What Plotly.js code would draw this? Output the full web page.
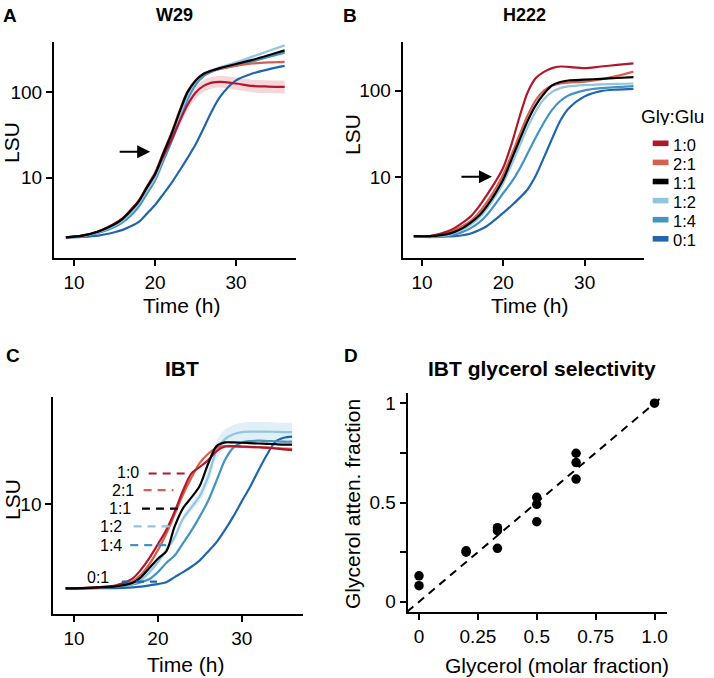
<!DOCTYPE html>
<html>
<head>
<meta charset="utf-8">
<script src="https://cdn.plot.ly/plotly-3.0.1.min.js"></script>
<style>html,body{margin:0;padding:0;background:#fff;}#chart{width:714px;height:678px;}</style>
</head>
<body>
<div id="chart"></div>
<script>
// ---------- data ----------
const groups = ['1:0', '2:1', '1:1', '1:2', '1:4', '0:1'];

// Panel A: W29
const w29Time = [9, 11, 13, 15, 16, 17, 18, 19, 20, 21, 22, 23, 24, 25, 26, 27, 28, 30, 32, 34, 36];
const w29_1_0 = [2.0, 2.1, 2.35, 2.9, 3.35, 4.2, 5.4, 7.8, 11, 17.6, 27.5, 45, 71, 99, 119, 130, 133, 127, 119, 117, 116];
const w29_2_1 = [2.0, 2.1, 2.35, 2.9, 3.35, 4.2, 5.4, 7.9, 11.5, 19.5, 33, 60, 102, 138, 163, 178, 188, 205, 218, 225, 228];
const w29_1_1 = [2.0, 2.1, 2.35, 2.85, 3.3, 4.1, 5.3, 7.7, 11, 19, 32, 58, 100, 137, 165, 180, 192, 215, 240, 272, 310];
const w29_1_2 = [2.0, 2.08, 2.3, 2.75, 3.15, 3.9, 5.0, 7.1, 10, 17, 29, 52, 92, 135, 165, 182, 196, 225, 262, 305, 355];
const w29_1_4 = [2.0, 2.05, 2.25, 2.65, 3.0, 3.6, 4.6, 6.5, 9.3, 15.5, 26, 46, 82, 122, 155, 175, 188, 205, 230, 260, 292];
const w29_0_1 = [2.0, 2.03, 2.1, 2.3, 2.45, 2.7, 3.05, 3.8, 4.8, 6.4, 8.6, 12, 17, 24.5, 38, 60, 88, 138, 166, 186, 204];
const w29_1_0_hi = [2.05, 2.15, 2.4, 2.95, 3.45, 4.3, 5.6, 8.1, 11.6, 19, 30.5, 51, 82, 116, 139, 151, 155, 150, 141, 139, 138];
const w29_1_0_lo = [1.95, 2.05, 2.3, 2.85, 3.25, 4.1, 5.2, 7.5, 10.4, 16.2, 24.8, 39.5, 61, 84, 101, 111, 114, 107, 100, 98, 97];

// Panel B: H222
const h222Time = [9, 11, 13, 14, 15, 16, 17, 18, 19, 20, 21, 22, 23, 24, 25, 26, 27, 28, 30, 32, 34, 36];
const h222_1_0 = [2.1, 2.1, 2.35, 2.6, 3.0, 3.55, 4.6, 6.3, 8.8, 13, 24, 50, 96, 140, 165, 182, 190, 188, 182, 190, 198, 207];
const h222_2_1 = [2.1, 2.1, 2.25, 2.45, 2.75, 3.15, 3.9, 5.2, 7.3, 10.8, 18, 31, 52, 78, 100, 115, 121, 124, 127, 135, 148, 166];
const h222_1_1 = [2.1, 2.1, 2.2, 2.35, 2.6, 3.0, 3.6, 4.7, 6.5, 9.5, 16, 27, 45, 68, 92, 115, 126, 131, 134, 137, 140, 143];
const h222_1_2 = [2.1, 2.08, 2.15, 2.3, 2.5, 2.85, 3.4, 4.4, 6.0, 8.6, 14, 23, 38, 58, 80, 97, 107, 112, 116, 118, 120, 121];
const h222_1_4 = [2.1, 2.05, 2.1, 2.2, 2.35, 2.6, 3.0, 3.7, 4.9, 6.6, 8.8, 12.5, 19, 29, 43, 60, 76, 88, 101, 107, 110, 113];
const h222_0_1 = [2.07, 2.07, 2.08, 2.1, 2.15, 2.25, 2.45, 2.75, 3.25, 3.9, 4.7, 5.8, 7.3, 10.5, 17, 28, 45, 62, 86, 99, 103, 105];

// Panel C: IBT
const ibtTime = [9, 11, 13, 15, 17, 18, 19, 20, 21, 22, 23, 24, 25, 26, 27, 28, 29, 30, 31, 32, 33, 34, 35, 36];
const ibt_1_0 = [1.03, 1.04, 1.07, 1.12, 1.35, 1.72, 2.35, 3.4, 5.0, 8.2, 14.5, 23, 27.3, 33, 42, 47.5, 48, 47.5, 47, 46.5, 46, 45, 44, 43];
const ibt_2_1 = [1.03, 1.04, 1.06, 1.1, 1.25, 1.5, 2.0, 2.9, 4.5, 7.6, 13, 20.5, 30.5, 39, 46, 48, 47.5, 47, 46.5, 46.5, 46, 45.5, 45, 44.5];
const ibt_1_1 = [1.03, 1.04, 1.06, 1.09, 1.2, 1.4, 1.8, 2.3, 2.8, 5.5, 9.0, 12, 16.5, 30, 48, 53, 53, 52.5, 52, 51.5, 51, 50.5, 50, 50];
const ibt_1_2 = [1.03, 1.04, 1.06, 1.09, 1.17, 1.3, 1.6, 2.1, 2.9, 4.1, 6.8, 9.2, 12.5, 21, 43, 58, 66, 70, 71, 71, 71, 70.5, 70, 70];
const ibt_1_4 = [1.03, 1.03, 1.05, 1.08, 1.15, 1.22, 1.33, 1.6, 2.05, 2.5, 3.5, 4.9, 7.2, 11, 19, 33, 46, 53, 55, 55.5, 55, 54.5, 54, 54];
const ibt_0_1 = [1.03, 1.03, 1.04, 1.04, 1.06, 1.08, 1.12, 1.16, 1.22, 1.4, 1.6, 1.85, 2.2, 2.8, 3.6, 5.0, 7.2, 10.8, 16, 25, 38, 54, 60, 62];
const ibt_1_2_hi = [1.05, 1.06, 1.08, 1.12, 1.22, 1.37, 1.7, 2.25, 3.1, 4.5, 7.5, 10.3, 14.5, 26, 55, 75, 85, 90, 92, 92, 92, 91, 90, 90];
const ibt_1_2_lo = [1.01, 1.02, 1.04, 1.06, 1.12, 1.23, 1.5, 1.95, 2.7, 3.7, 6.1, 8.2, 10.8, 17, 34, 45, 51, 54, 55, 55, 55, 54.5, 54, 54];

// Panel D: selectivity
const glycerolMolarFraction = [0, 0, 0.2, 0.2, 0.333, 0.333, 0.333, 0.5, 0.5, 0.5, 0.667, 0.667, 0.667, 1.0];
const glycerolAttenFraction = [0.131, 0.081, 0.257, 0.25, 0.373, 0.358, 0.269, 0.526, 0.491, 0.403, 0.748, 0.701, 0.618, 1.0];
const identityLine = [-0.05, 1.03];

// ---------- style ----------
const colors = ['#b2182b', '#d6604d', '#000000', '#92c5de', '#4393c3', '#2166ac'];
const FONT = 'Liberation Sans, Arial, sans-serif';
const W = 714, H = 678;
const px = v => v / W;
const py = v => 1 - v / H;

const w29Series = [w29_1_0, w29_2_1, w29_1_1, w29_1_2, w29_1_4, w29_0_1];
const h222Series = [h222_1_0, h222_2_1, h222_1_1, h222_1_2, h222_1_4, h222_0_1];
const ibtSeries = [ibt_1_0, ibt_2_1, ibt_1_1, ibt_1_2, ibt_1_4, ibt_0_1];
const drawOrder = [5, 4, 3, 1, 0, 2];

const traces = [];
function band(x, lo, hi, xa, ya, rgba) {
  traces.push({x: x, y: lo, xaxis: xa, yaxis: ya, mode: 'lines', line: {width: 0, shape: 'spline'}, hoverinfo: 'skip', showlegend: false});
  traces.push({x: x, y: hi, xaxis: xa, yaxis: ya, mode: 'lines', line: {width: 0, shape: 'spline'}, fill: 'tonexty', fillcolor: rgba, hoverinfo: 'skip', showlegend: false});
}
band(w29Time, w29_1_0_lo, w29_1_0_hi, 'x', 'y', 'rgba(214,96,110,0.25)');
band(ibtTime, ibt_1_2_lo, ibt_1_2_hi, 'x3', 'y3', 'rgba(146,197,222,0.28)');

function addCurves(t, series, xa, ya) {
  drawOrder.forEach(i => {
    traces.push({x: t, y: series[i], xaxis: xa, yaxis: ya, mode: 'lines', name: groups[i],
      line: {color: colors[i], width: 2.2, shape: 'spline', smoothing: 0.8}, showlegend: false});
  });
}
addCurves(w29Time, w29Series, 'x', 'y');
addCurves(h222Time, h222Series, 'x2', 'y2');
addCurves(ibtTime, ibtSeries, 'x3', 'y3');

// label pointer dashes in panel C
const dashDefs = [
  {i: 0, x0: 18.9, x1: 23.8, y: 22.9},
  {i: 1, x0: 18.3, x1: 21.85, y: 14.6},
  {i: 2, x0: 18.1, x1: 22.6, y: 8.9},
  {i: 3, x0: 17.1, x1: 21.45, y: 5.5},
  {i: 4, x0: 16.7, x1: 21.05, y: 3.31},
  {i: 5, x0: 15.7, x1: 19.9, y: 1.24}
];
dashDefs.forEach(d => {
  traces.push({x: [d.x0, d.x1], y: [d.y, d.y], xaxis: 'x3', yaxis: 'y3', mode: 'lines',
    line: {color: colors[d.i], width: 2.2, dash: '8px,6px'}, showlegend: false, hoverinfo: 'skip'});
});

// panel D
traces.push({x: identityLine, y: identityLine, xaxis: 'x4', yaxis: 'y4', mode: 'lines',
  line: {color: 'black', width: 2, dash: '8px,6px'}, showlegend: false, hoverinfo: 'skip', cliponaxis: false});
traces.push({x: glycerolMolarFraction, y: glycerolAttenFraction, xaxis: 'x4', yaxis: 'y4', mode: 'markers',
  marker: {color: 'black', size: 9.5}, showlegend: false});

// ---------- axes ----------
const axBase = {showline: true, linewidth: 2, linecolor: 'black', ticks: 'outside', ticklen: 6, tickwidth: 2,
  tickcolor: 'black', showgrid: false, zeroline: false, tickfont: {family: FONT, size: 19, color: 'black'}};
const layout = {
  width: W, height: H, margin: {l: 0, r: 0, t: 0, b: 0},
  paper_bgcolor: 'white', plot_bgcolor: 'white', showlegend: false,
  font: {family: FONT, color: 'black'},
  xaxis: Object.assign({}, axBase, {domain: [px(54), px(296)], range: [7.53, 37.4], tickvals: [10, 20, 30], anchor: 'y'}),
  yaxis: Object.assign({}, axBase, {domain: [py(258), py(42)], type: 'log', range: [0.06, 2.59], tickvals: [10, 100], ticktext: ['10', '100'], anchor: 'x'}),
  xaxis2: Object.assign({}, axBase, {domain: [px(402.7), px(644)], range: [7.63, 37.3], tickvals: [10, 20, 30], anchor: 'y2'}),
  yaxis2: Object.assign({}, axBase, {domain: [py(258), py(41.7)], type: 'log', range: [0.07, 2.565], tickvals: [10, 100], ticktext: ['10', '100'], anchor: 'x2'}),
  xaxis3: Object.assign({}, axBase, {domain: [px(53.3), px(303)], range: [7.53, 37.3], tickvals: [10, 20, 30], anchor: 'y3'}),
  yaxis3: Object.assign({}, axBase, {domain: [py(614.3), py(396.7)], type: 'log', range: [-0.29, 2.26], tickvals: [10], ticktext: ['10'], anchor: 'x3'}),
  xaxis4: Object.assign({}, axBase, {domain: [px(407.7), px(667)], range: [-0.048, 1.053], tickvals: [0, 0.25, 0.5, 0.75, 1], ticktext: ['0', '0.25', '0.5', '0.75', '1.0'], anchor: 'y4'}),
  yaxis4: Object.assign({}, axBase, {domain: [py(612.3), py(393.3)], range: [-0.053, 1.05], tickvals: [0, 0.25, 0.5, 0.75, 1], ticktext: ['0', '', '0.5', '', '1'], anchor: 'x4'}),
  annotations: [], shapes: []
};

function txt(text, x, y, size, opts) {
  layout.annotations.push(Object.assign({text: text, x: px(x), y: py(y), xref: 'paper', yref: 'paper',
    showarrow: false, xanchor: 'center', yanchor: 'middle', font: {family: FONT, size: size, color: 'black'}}, opts || {}));
}
// panel letters & titles
txt('<b>A</b>', 10, 15, 19); txt('<b>B</b>', 350, 15, 19);
txt('<b>C</b>', 13, 355, 19); txt('<b>D</b>', 351, 355, 19);
txt('<b>W29</b>', 174, 15, 18); txt('<b>H222</b>', 524, 15, 18);
txt('<b>IBT</b>', 182, 368, 21); txt('<b>IBT glycerol selectivity</b>', 542, 368, 21);
// axis titles
txt('LSU', 11, 143, 21, {textangle: -90});
txt('LSU', 353, 135, 21, {textangle: -90});
txt('LSU', 12, 500, 21, {textangle: -90});
txt('Glycerol atten. fraction', 352, 504, 21, {textangle: -90});
txt('Time (h)', 181, 305, 21); txt('Time (h)', 529, 305, 21); txt('Time (h)', 185, 664, 21);
txt('Glycerol (molar fraction)', 557, 665, 21);

// arrows in A and B
layout.annotations.push({xref: 'x', yref: 'y', x: 19.4, y: Math.log10(20.2), ax: -32, ay: 0, text: '', showarrow: true,
  arrowhead: 2, arrowsize: 1.3, arrowwidth: 2, arrowcolor: 'black'});
layout.annotations.push({xref: 'x2', yref: 'y2', x: 18.6, y: Math.log10(10.2), ax: -32, ay: 0, text: '', showarrow: true,
  arrowhead: 2, arrowsize: 1.3, arrowwidth: 2, arrowcolor: 'black'});

// labels in C (positioned near the dashes)
const labelPos = [
  {x: 17.87, y: 23.9}, {x: 17.28, y: 14.6}, {x: 16.88, y: 9.0},
  {x: 15.88, y: 5.5}, {x: 15.88, y: 3.31}, {x: 14.29, y: 1.41}
];
labelPos.forEach((p, i) => {
  layout.annotations.push({xref: 'x3', yref: 'y3', x: p.x, y: Math.log10(p.y), text: groups[i], showarrow: false,
    xanchor: 'right', yanchor: 'middle', height: 14, valign: 'middle', borderpad: 0,
    font: {family: FONT, size: 16, color: 'black'}});
});

// custom legend
txt('Gly:Glu', 640, 116, 19, {xanchor: 'left', height: 18, borderpad: 0});
const legY0 = 143.3, legStep = 19.1;
groups.forEach((g, i) => {
  const yc = legY0 + i * legStep;
  layout.shapes.push({type: 'rect', xref: 'paper', yref: 'paper', x0: px(652.7), x1: px(668.5),
    y0: py(yc + 2.8), y1: py(yc - 2.8), fillcolor: colors[i], line: {width: 0}});
  txt(g, 671.5, yc + 1, 16.5, {xanchor: 'left', height: 15, borderpad: 0});
});

Plotly.newPlot('chart', traces, layout, {displayModeBar: false, staticPlot: true});
</script>
</body>
</html>
